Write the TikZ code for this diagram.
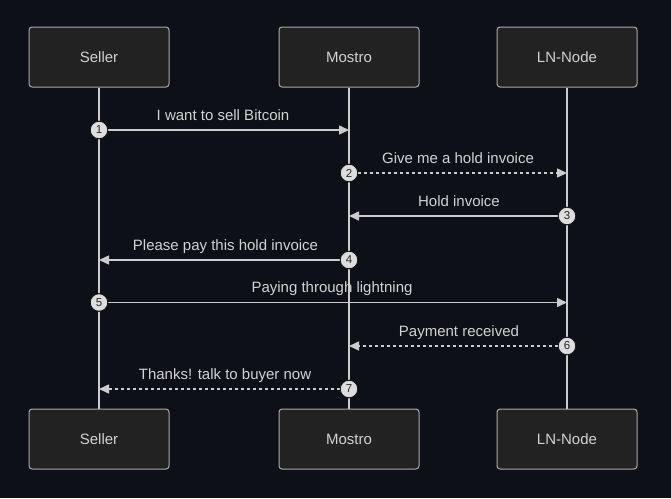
\documentclass[tikz,border=0pt]{standalone}
\usepackage{fontspec}
\setmainfont{Liberation Sans}
\usetikzlibrary{arrows.meta}
\definecolor{bgc}{RGB}{14,16,23}
\definecolor{boxfill}{RGB}{33,34,33}
\definecolor{boxline}{RGB}{170,170,170}
\definecolor{linec}{RGB}{204,204,204}
\definecolor{txtc}{RGB}{210,210,210}
\definecolor{dotfill}{RGB}{221,221,221}
\definecolor{dottext}{RGB}{40,40,40}
\tikzset{
  actor/.style={draw=boxline, fill=boxfill, line width=1pt, rounded corners=3pt,
    minimum width=140pt, minimum height=60pt, inner sep=0pt,
    text=txtc, font=\fontsize{15pt}{18pt}\selectfont},
  lifeline/.style={draw=linec, line width=1.5pt},
  msg/.style={draw=linec, line width=1.5pt, -{Triangle[length=10pt,width=9pt]}},
  dmsg/.style={msg, dash pattern=on 3pt off 3pt},
  seqdot/.style={circle, fill=dotfill, draw=bgc, line width=0.8pt, minimum size=17.5pt, inner sep=0pt,
    text=dottext, font=\fontsize{11.5pt}{13pt}\selectfont},
  mlabel/.style={text=txtc, font=\fontsize{15pt}{18pt}\selectfont, inner sep=0pt, anchor=base}
}
\begin{document}
\begin{tikzpicture}[x=1pt,y=-1pt]
\useasboundingbox[fill=bgc] (0,0) rectangle (671,498);
% actors
\node[actor] (sellT) at (99,57) {Seller};
\node[actor] (mosT) at (349,57) {Mostro};
\node[actor] (lnT) at (567,57) {LN-Node};
\node[actor] (sellB) at (99,439) {Seller};
\node[actor] (mosB) at (349,439) {Mostro};
\node[actor] (lnB) at (567,439) {LN-Node};
% lifelines
\draw[lifeline] (sellT.south) -- (sellB.north);
\draw[lifeline] (mosT.south) -- (mosB.north);
\draw[lifeline] (lnT.south) -- (lnB.north);
% message end coordinates
\coordinate (e1) at (349,130);
\coordinate (e2) at (567,173);
\coordinate (e3) at (349,216);
\coordinate (e4) at (99,260);
\coordinate (e5) at (567,302.5);
\coordinate (e6) at (349,346);
\coordinate (e7) at (99,389);
% sequence dots
\node[seqdot] (c1) at (99,130) {1};
\node[seqdot] (c2) at (349,173) {2};
\node[seqdot] (c3) at (567,216) {3};
\node[seqdot] (c4) at (349,260) {4};
\node[seqdot] (c5) at (99,302.5) {5};
\node[seqdot] (c6) at (567,346) {6};
\node[seqdot] (c7) at (349,389) {7};
% messages
\draw[msg] (c1) -- (e1);
\draw[dmsg] (c2) -- (e2);
\draw[msg] (c3) -- (e3);
\draw[msg] (c4) -- (e4);
\draw[msg] (c5) -- (e5);
\draw[dmsg] (c6) -- (e6);
\draw[dmsg] (c7) -- (e7);
% redraw dots on top
\foreach \n/\x/\y in {1/99/130,2/349/173,3/567/216,4/349/260,5/99/302.5,6/567/346,7/349/389}
  \node[seqdot] at (\x,\y) {\n};
% labels (baseline 10pt above the message line)
\node[mlabel] (l1) at (223,120) {I want to sell Bitcoin};
\node[mlabel] (l2) at (458,163) {Give me a hold invoice};
\node[mlabel] (l3) at (459,206) {Hold invoice};
\node[mlabel] (l4) at (225.5,250) {Please pay this hold invoice};
\node[mlabel] (l5) at (332,292.5) {Paying through lightning};
\node[mlabel] (l6) at (459,336) {Payment received};
\node[mlabel] (l7) at (225,379) {Thanks! talk to buyer now};
\end{tikzpicture}
\end{document}
